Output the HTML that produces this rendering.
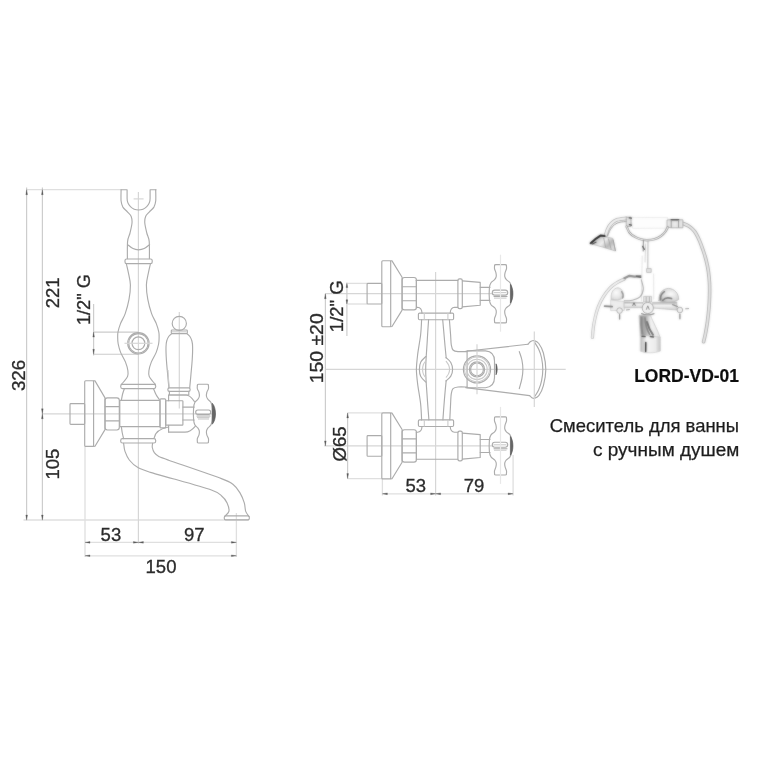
<!DOCTYPE html>
<html><head><meta charset="utf-8"><title>LORD-VD-01</title>
<style>
html,body{margin:0;padding:0;background:#fff;}
body{width:763px;height:763px;overflow:hidden;}
svg{display:block;}
.d{fill:none;stroke:#acacac;stroke-width:1.15;stroke-linecap:round;stroke-linejoin:round;}
.f{fill:none;stroke:#cbcbcb;stroke-width:1.1;}
.m{fill:none;stroke:#dfdfdf;stroke-width:1.3;}
.n{fill:none;stroke:#cdcdcd;stroke-width:1.2;}
.x{fill:none;stroke:#d6d6d6;stroke-width:1.2;}
.g{fill:none;stroke:#e8e8e8;stroke-width:1.2;}
.a{fill:#5c5c5c;stroke:#5c5c5c;stroke-width:0.3;}
.k{fill:#666;stroke:#555;stroke-width:0.6;}
.t{font-family:"Liberation Sans","DejaVu Sans",sans-serif;fill:#2c2c2c;stroke:#2c2c2c;stroke-width:0.32;}
.tb{font-family:"Liberation Sans","DejaVu Sans",sans-serif;fill:#111;stroke:#111;stroke-width:0.2;font-weight:bold;}
.tr{font-family:"Liberation Sans","DejaVu Sans",sans-serif;fill:#1f1f1f;stroke:#1f1f1f;stroke-width:0.25;}
</style></head><body>
<svg width="763" height="763" viewBox="0 0 763 763">
<defs>
<filter id="soft" x="-5%" y="-5%" width="110%" height="110%"><feGaussianBlur stdDeviation="0.6"/></filter>
<filter id="softt" x="-5%" y="-5%" width="110%" height="110%"><feGaussianBlur stdDeviation="0.45"/></filter>
<filter id="blur1" x="-10%" y="-10%" width="120%" height="120%"><feGaussianBlur stdDeviation="0.9"/></filter>
<filter id="blur2" x="-10%" y="-10%" width="120%" height="120%" color-interpolation-filters="sRGB"><feGaussianBlur in="SourceGraphic" stdDeviation="0.8" result="b"/><feComposite in="b" in2="SourceGraphic" operator="arithmetic" k1="0" k2="0.55" k3="0.45" k4="0"/></filter>
<linearGradient id="chrv" x1="0" y1="0" x2="0" y2="1"><stop offset="0" stop-color="#a8a8a8"/><stop offset="0.45" stop-color="#f6f6f6"/><stop offset="1" stop-color="#c9c9c9"/></linearGradient>
<linearGradient id="head" x1="0" y1="0" x2="1" y2="0.6"><stop offset="0" stop-color="#7d7d7d"/><stop offset="0.3" stop-color="#cfcfcf"/><stop offset="0.55" stop-color="#f0f0f0"/><stop offset="0.8" stop-color="#b9b9b9"/><stop offset="1" stop-color="#dedede"/></linearGradient>
<linearGradient id="spt" x1="0" y1="0" x2="1" y2="0"><stop offset="0" stop-color="#969696"/><stop offset="0.3" stop-color="#adadad"/><stop offset="0.55" stop-color="#f4f4f4"/><stop offset="1" stop-color="#e4e4e4"/></linearGradient>
<linearGradient id="spt2" x1="0" y1="0" x2="1" y2="0"><stop offset="0" stop-color="#b8b8b8"/><stop offset="0.3" stop-color="#f6f6f6"/><stop offset="0.75" stop-color="#ececec"/><stop offset="1" stop-color="#c2c2c2"/></linearGradient>
<radialGradient id="bellL" cx="0.4" cy="0.4" r="0.75"><stop offset="0" stop-color="#fcfcfc"/><stop offset="0.65" stop-color="#e3e3e3"/><stop offset="1" stop-color="#b4b4b4"/></radialGradient>
<radialGradient id="bellR" cx="0.6" cy="0.4" r="0.75"><stop offset="0" stop-color="#fbfbfb"/><stop offset="0.6" stop-color="#dadada"/><stop offset="1" stop-color="#a6a6a6"/></radialGradient>
</defs>
<rect width="763" height="763" fill="#fff"/>
<g id="left-view">
<path class="m" d="M26.6,189.7 L121.0,189.7"/>
<path class="n" d="M26.6,187.5 L26.6,521.0"/>
<path class="n" d="M42.4,187.5 L42.4,521.0"/>
<path class="m" d="M23.5,520.0 L249.0,520.0"/>
<path class="x" d="M42.4,413.8 L216.0,413.8"/>
<path class="x" d="M138.4,192.0 L138.4,543.5"/>
<path class="x" d="M133.6,198.9 L143.6,198.9"/>
<path class="m" d="M85.0,446.4 L85.0,557.0"/>
<path class="m" d="M236.4,513.0 L236.4,557.0"/>
<path class="m" d="M85.0,542.4 L236.4,542.4"/>
<path class="m" d="M85.0,555.8 L236.4,555.8"/>
<path class="n" d="M93.6,304.0 L93.6,355.5"/>
<path class="f" d="M93.6,332.1 L138.4,332.1"/>
<path class="f" d="M93.6,354.3 L138.4,354.3"/>
<path class="a" d="M26.6,189.7 L25.8,194.7 L27.5,194.7Z"/>
<path class="a" d="M42.4,189.7 L41.5,194.7 L43.2,194.7Z"/>
<path class="a" d="M26.6,520.0 L25.8,515.0 L27.5,515.0Z"/>
<path class="a" d="M42.4,520.0 L41.5,515.0 L43.2,515.0Z"/>
<path class="a" d="M42.4,413.8 L41.5,408.8 L43.2,408.8Z"/>
<path class="a" d="M42.4,413.8 L41.5,418.8 L43.2,418.8Z"/>
<path class="a" d="M93.6,332.1 L92.8,337.1 L94.4,337.1Z"/>
<path class="a" d="M93.6,354.3 L92.8,349.3 L94.4,349.3Z"/>
<path class="a" d="M85.0,542.4 L90.0,541.5 L90.0,543.2Z"/>
<path class="a" d="M138.4,542.4 L133.4,541.5 L133.4,543.2Z"/>
<path class="a" d="M138.4,542.4 L143.4,541.5 L143.4,543.2Z"/>
<path class="a" d="M236.4,542.4 L231.4,541.5 L231.4,543.2Z"/>
<path class="a" d="M85.0,555.8 L90.0,554.9 L90.0,556.6Z"/>
<path class="a" d="M236.4,555.8 L231.4,554.9 L231.4,556.6Z"/>
<path class="d" d="M121.1,189.7 C121.1,191.6 120.8,198.1 121.1,201.0 C121.4,203.9 121.8,205.2 122.9,207.1 C124.0,208.9 126.2,210.5 127.6,212.1 C129.0,213.7 130.5,214.7 131.2,216.5 C131.9,218.3 132.2,220.2 132.0,223.0 C131.8,225.8 130.7,229.9 130.0,233.0 C129.3,236.1 128.0,237.1 127.6,241.4 C127.2,245.7 127.4,255.7 127.4,258.6" />
<path class="d" d="M155.7,189.7 C155.7,191.6 156.0,198.1 155.7,201.0 C155.4,203.9 155.0,205.2 153.9,207.1 C152.8,208.9 150.6,210.5 149.2,212.1 C147.8,213.7 146.3,214.7 145.6,216.5 C144.9,218.3 144.6,220.2 144.8,223.0 C145.0,225.8 146.1,229.9 146.8,233.0 C147.5,236.1 148.8,237.1 149.2,241.4 C149.6,245.7 149.4,255.7 149.4,258.6" />
<path class="d" d="M121.1,189.7 L127.1,189.7 L127.1,198.5 A11.5,11.5 0 0 0 150.1,198.5 L150.1,189.7 L156.1,189.7" />
<path class="d" d="M127.6,244.6 C128.5,245.3 131.2,247.7 133.0,248.6 C134.8,249.5 136.5,249.8 138.4,249.8 C140.3,249.8 142.3,249.5 144.2,248.6 C146.1,247.7 148.7,245.3 149.6,244.6" />
<rect class="d" x="125.0" y="259.0" width="27.2" height="4.6" rx="1.6"/>
<path class="d" d="M126.4,264.0 C126.7,265.5 127.7,269.4 128.4,272.9 C129.1,276.4 130.3,280.6 130.4,285.0 C130.5,289.4 129.9,294.5 129.0,299.3 C128.1,304.1 126.6,309.6 125.2,313.6 C123.8,317.7 121.7,320.5 120.5,323.6 C119.3,326.7 118.5,329.6 118.0,332.0 C117.5,334.4 117.7,336.0 117.7,338.0 C117.7,340.0 117.7,341.6 118.2,344.0 C118.7,346.4 119.3,349.1 120.5,352.1 C121.7,355.1 124.3,359.0 125.5,362.1 C126.7,365.2 127.6,368.3 127.9,370.7 C128.2,373.1 128.3,374.6 127.6,376.4 C126.9,378.2 125.0,380.2 123.9,381.5 C122.9,382.8 121.7,383.8 121.3,384.3" />
<path class="d" d="M150.4,264.0 C150.1,265.5 149.1,269.4 148.4,272.9 C147.7,276.4 146.5,280.6 146.4,285.0 C146.3,289.4 146.9,294.5 147.8,299.3 C148.7,304.1 150.2,309.6 151.6,313.6 C153.0,317.7 155.1,320.5 156.3,323.6 C157.5,326.7 158.3,329.6 158.8,332.0 C159.3,334.4 159.1,336.0 159.1,338.0 C159.1,340.0 159.1,341.6 158.6,344.0 C158.1,346.4 157.5,349.1 156.3,352.1 C155.1,355.1 152.5,359.0 151.3,362.1 C150.1,365.2 149.2,368.3 148.9,370.7 C148.6,373.1 148.5,374.6 149.2,376.4 C149.9,378.2 151.9,380.2 152.9,381.5 C153.9,382.8 155.1,383.8 155.5,384.3" />
<rect class="d" x="120.7" y="384.3" width="35.0" height="4.3" rx="1.8"/>
<circle class="d" cx="138.4" cy="343.3" r="10.7"/>
<circle class="d" cx="138.4" cy="343.3" r="9.7"/>
<circle class="d" cx="138.4" cy="343.3" r="6.4"/>
<path class="x" d="M124.5,343.3 L152.5,343.3"/>
<path class="d" d="M124.3,388.8 C124.0,389.7 123.1,392.1 122.6,394.0 C122.1,395.9 121.6,399.0 121.4,400.0" />
<path class="d" d="M153.6,388.8 C154.0,389.8 155.1,392.7 156.0,394.5 C156.9,396.3 158.8,398.7 159.3,399.5" />
<rect class="d" x="70.0" y="403.6" width="14.7" height="20.7" rx="0.8"/>
<rect class="d" x="84.7" y="380.7" width="8.9" height="65.7" rx="1.0"/>
<path class="d" d="M93.6,380.7 L95.0,380.9 L105.0,397.9 L105.0,429.6 L95.0,446.2 L93.6,446.4" />
<rect class="d" x="105.0" y="397.9" width="14.3" height="32.1" rx="2.4"/>
<path class="d" d="M105.3,406.6 L119.0,406.6"/>
<path class="d" d="M105.3,420.8 L119.0,420.8"/>
<rect class="d" x="119.8" y="400.4" width="40.2" height="26.3" rx="0.6"/>
<rect class="d" x="160.0" y="398.8" width="5.7" height="29.1" rx="1.0"/>
<path class="d" d="M121.4,427.1 C121.6,428.1 121.9,431.1 122.3,433.0 C122.7,434.9 123.4,437.7 123.6,438.6" />
<path class="d" d="M168.6,427.0 C161.0,428.4 155.2,431.4 154.2,437.9" />
<rect class="d" x="120.7" y="438.6" width="35.0" height="4.4" rx="1.8"/>
<path class="d" d="M123.6,443.3 C123.8,444.5 124.1,448.9 125.0,451.4 C125.9,453.9 127.4,457.6 129.3,460.0 C131.2,462.4 134.7,465.7 137.9,467.6 C141.1,469.5 145.0,470.7 150.4,472.4 C155.8,474.1 164.8,476.4 174.0,479.0 C183.2,481.6 204.3,487.5 211.4,490.0 C218.5,492.5 219.0,493.8 221.4,495.7 C223.8,497.6 226.0,500.5 227.1,502.9 C228.2,505.3 229.3,509.4 228.9,511.4 C228.5,513.4 225.2,515.7 224.6,516.5" />
<path class="d" d="M152.6,443.3 C152.6,443.9 152.0,446.1 152.3,447.5 C152.6,448.9 153.3,451.3 154.3,452.6 C155.3,453.9 156.7,455.3 158.8,456.4 C160.9,457.5 159.2,456.9 168.6,460.2 C178.0,463.5 211.8,475.0 221.4,478.6 C231.0,482.2 230.1,482.2 232.9,484.3 C235.7,486.4 238.3,490.1 240.0,492.9 C241.7,495.7 243.4,500.1 244.3,502.9 C245.2,505.7 245.0,509.4 245.7,511.4 C246.4,513.4 248.5,515.7 249.0,516.5" />
<rect class="d" x="224.3" y="515.9" width="25.0" height="4.0" rx="1.4"/>
<path class="x" d="M179.3,312.0 L179.3,408.6"/>
<circle class="d" cx="179.3" cy="323.4" r="7.1"/>
<rect class="d" x="171.3" y="330.0" width="16.0" height="3.6" rx="0.8"/>
<path class="f" d="M172.0,331.8 L186.6,331.8"/>
<path class="d" d="M171.5,333.8 C171.0,334.2 169.5,335.3 168.7,336.5 C167.9,337.7 167.2,339.2 166.7,341.0 C166.2,342.8 166.1,343.8 166.0,347.0 C165.9,350.2 166.1,355.3 166.4,360.0 C166.7,364.7 167.3,370.4 167.7,375.0 C168.1,379.6 168.7,385.8 168.9,387.9" />
<path class="d" d="M187.1,333.8 C187.6,334.2 189.1,335.3 189.9,336.5 C190.7,337.7 191.4,339.2 191.9,341.0 C192.4,342.8 192.6,343.8 192.6,347.0 C192.7,350.2 192.5,355.3 192.2,360.0 C191.9,364.7 191.3,370.4 190.9,375.0 C190.5,379.6 189.9,385.8 189.7,387.9" />
<path class="f" d="M168.0,370.0 C168.1,371.3 168.4,377.7 168.6,380.0 C168.8,382.3 169.3,386.4 169.4,387.4" />
<rect class="d" x="167.9" y="387.9" width="22.2" height="3.5" rx="1.4"/>
<path class="d" d="M169.4,391.4 L169.4,395.0 L188.8,395.0 L188.8,391.4" />
<path class="d" d="M168.6,395 L186.2,395 C190,395 192,398 194.4,401.5" />
<path class="d" d="M168.6,432.1 L185.0,432.1 C190,432.1 192.5,429.5 195.2,426.3" />
<path class="d" d="M168.6,395.0 L168.6,400.7"/>
<path class="d" d="M168.6,425.2 L168.6,432.1"/>
<rect class="d" x="165.7" y="400.7" width="17.2" height="24.4" rx="0.6"/>
<path class="d" d="M182.9,407.1 L194.2,407.1"/>
<path class="d" d="M182.9,420.0 L194.2,420.0"/>
<path class="d" d="M197.4,385.0 C197.4,385.5 197.1,387.4 197.3,388.5 C197.5,389.6 198.7,391.3 199.0,392.5 C199.3,393.7 199.5,395.5 199.3,396.5 C199.1,397.5 198.5,398.5 197.8,399.4 C197.1,400.3 195.4,401.2 194.8,402.5 C194.2,403.8 193.8,405.4 193.6,408.0 C193.4,410.6 193.4,417.0 193.6,419.5 C193.8,422.0 194.2,423.5 194.8,424.8 C195.4,426.1 197.1,427.0 197.8,427.9 C198.5,428.8 199.1,429.8 199.3,430.8 C199.5,431.8 199.3,433.6 199.0,434.8 C198.7,436.0 197.5,437.7 197.3,438.8 C197.1,439.9 197.4,441.7 197.4,442.2" />
<path class="d" d="M208.4,385.0 C208.4,385.5 208.7,387.4 208.5,388.5 C208.3,389.6 207.1,391.3 206.8,392.5 C206.5,393.7 206.3,395.5 206.5,396.5 C206.7,397.5 207.3,398.5 208.0,399.4 C208.7,400.3 210.4,401.2 211.0,402.5 C211.6,403.8 212.0,405.4 212.2,408.0 C212.4,410.6 212.4,417.0 212.2,419.5 C212.0,422.0 211.6,423.5 211.0,424.8 C210.4,426.1 208.7,427.0 208.0,427.9 C207.3,428.8 206.7,429.8 206.5,430.8 C206.3,431.8 206.5,433.6 206.8,434.8 C207.1,436.0 208.3,437.7 208.5,438.8 C208.7,439.9 208.4,441.7 208.4,442.2" />
<path class="d" d="M197.4,385 Q197.5,384.2 198.6,384.2 L207.2,384.2 Q208.3,384.2 208.4,385" />
<path class="d" d="M197.4,442.2 Q197.5,443.0 198.6,443.0 L207.2,443.0 Q208.3,443.0 208.4,442.2" />
<path class="k" d="M212.3,403.2 C216.6,408 216.6,419.5 212.3,424.2 Z" />
<rect class="d" x="195.7" y="410.0" width="15.0" height="4.3" rx="2.1"/>
<path class="d" d="M197.0,416.0 L210.0,416.0"/>
<path class="f" d="M197.0,417.6 L209.5,417.6"/>
<path class="f" d="M198.0,419.0 L209.0,419.0"/>
</g>
<g id="top-view">
<path class="x" d="M325.4,293.7 L493.0,293.7"/>
<path class="x" d="M324.3,445.9 L493.0,445.9"/>
<path class="x" d="M325.6,369.4 L565.7,369.4"/>
<path class="x" d="M435.6,272.0 L435.6,495.5"/>
<path class="n" d="M325.4,293.7 L325.4,445.9"/>
<path class="n" d="M346.9,282.5 L346.9,336.0"/>
<path class="m" d="M346.9,283.4 L367.1,283.4"/>
<path class="m" d="M346.9,304.0 L367.1,304.0"/>
<path class="n" d="M347.6,412.9 L347.6,478.6"/>
<path class="m" d="M347.6,412.9 L382.0,412.9"/>
<path class="m" d="M347.6,478.6 L382.0,478.6"/>
<path class="m" d="M382.4,478.6 L382.4,495.5"/>
<path class="m" d="M513.1,455.0 L513.1,495.5"/>
<path class="m" d="M382.4,493.8 L513.1,493.8"/>
<path class="a" d="M325.4,293.7 L324.5,298.7 L326.2,298.7Z"/>
<path class="a" d="M325.4,445.9 L324.5,440.9 L326.2,440.9Z"/>
<path class="a" d="M346.9,283.4 L346.0,287.6 L347.8,287.6Z"/>
<path class="a" d="M346.9,304.0 L346.0,299.8 L347.8,299.8Z"/>
<path class="a" d="M347.6,412.9 L346.8,417.9 L348.5,417.9Z"/>
<path class="a" d="M347.6,478.6 L346.8,473.6 L348.5,473.6Z"/>
<path class="a" d="M382.4,493.8 L387.4,492.9 L387.4,494.7Z"/>
<path class="a" d="M435.6,493.8 L430.6,492.9 L430.6,494.7Z"/>
<path class="a" d="M435.6,493.8 L440.6,492.9 L440.6,494.7Z"/>
<path class="a" d="M513.1,493.8 L508.1,492.9 L508.1,494.7Z"/>
<rect class="d" x="367.1" y="283.4" width="14.7" height="20.6" rx="0.8"/>
<rect class="d" x="381.8" y="260.7" width="8.9" height="66.0" rx="1.0"/>
<path class="d" d="M390.7,260.7 L392.0,260.9 L402.1,277.3 L402.1,310.1 L392.0,326.5 L390.7,326.7" />
<rect class="d" x="402.1" y="277.5" width="14.3" height="32.4" rx="2.4"/>
<path class="d" d="M402.4,286.7 L416.1,286.7"/>
<path class="d" d="M402.4,300.7 L416.1,300.7"/>
<path class="d" d="M416.4,280.3 L457.9,280.3"/>
<path class="d" d="M416.4,307.3 L417.6,307.3 C420.2,307.5 421.8,309.2 422.0,313.1" />
<path class="d" d="M457.9,307.3 L454.6,307.3 C452.0,307.5 450.4,309.2 450.2,313.1" />
<path class="d" d="M416.4,280.3 L416.4,307.3"/>
<rect class="d" x="457.9" y="278.9" width="4.4" height="29.8" rx="1.6"/>
<path class="d" d="M462.3,280.9 L480.2,282.4 L480.2,305.3 L462.3,306.9" />
<path class="d" d="M480.2,287.3 L490.0,287.3"/>
<path class="d" d="M480.2,300.3 L490.0,300.3"/>
<rect class="d" x="418.4" y="313.1" width="35.2" height="6.6" rx="1.2"/>
<path class="f" d="M424.3,313.1 L424.3,319.7"/>
<path class="f" d="M447.9,313.1 L447.9,319.7"/>
<path class="d" d="M494.6,265.3 C494.6,265.8 494.3,267.6 494.5,268.7 C494.7,269.8 495.6,271.5 495.9,272.7 C496.2,273.9 496.4,275.6 496.2,276.7 C496.0,277.8 495.4,278.8 494.6,279.7 C493.8,280.6 491.8,281.5 491.0,282.7 C490.2,283.9 489.6,285.1 489.4,287.7 C489.2,290.2 489.2,297.1 489.4,299.7 C489.6,302.2 490.2,303.5 491.0,304.7 C491.8,305.9 493.8,306.8 494.6,307.7 C495.4,308.6 496.0,309.6 496.2,310.7 C496.4,311.8 496.2,313.5 495.9,314.7 C495.6,315.9 494.7,317.6 494.5,318.7 C494.3,319.8 494.6,321.6 494.6,322.1" />
<path class="d" d="M506.4,265.3 C506.4,265.8 506.7,267.6 506.5,268.7 C506.3,269.8 505.4,271.5 505.1,272.7 C504.8,273.9 504.6,275.6 504.8,276.7 C505.0,277.8 505.6,278.8 506.4,279.7 C507.2,280.6 509.2,281.5 510.0,282.7 C510.8,283.9 511.4,285.1 511.6,287.7 C511.8,290.2 511.8,297.1 511.6,299.7 C511.4,302.2 510.8,303.5 510.0,304.7 C509.2,305.9 507.2,306.8 506.4,307.7 C505.6,308.6 505.0,309.6 504.8,310.7 C504.6,311.8 504.8,313.5 505.1,314.7 C505.4,315.9 506.3,317.6 506.5,318.7 C506.7,319.8 506.4,321.6 506.4,322.1" />
<path class="d" d="M494.6,265.3 Q494.7,264.6 495.8,264.6 L505.2,264.6 Q506.3,264.6 506.4,265.3" />
<path class="d" d="M494.6,322.1 Q494.7,322.8 495.8,322.8 L505.2,322.8 Q506.3,322.8 506.4,322.1" />
<path class="k" d="M510.4,284.3 C513.8,288.7 513.8,298.7 510.4,303.1 Z" />
<rect class="d" x="492.3" y="290.1" width="15.4" height="5.0" rx="2.4"/>
<path class="f" d="M493.5,292.6 L506.5,292.6"/>
<path class="d" d="M494.0,296.5 L507.0,296.5"/>
<path class="f" d="M494.0,298.1 L506.5,298.1"/>
<path class="g" d="M500.5,254.7 L500.5,331.7"/>
<rect class="d" x="367.1" y="435.6" width="14.7" height="20.6" rx="0.8"/>
<rect class="d" x="381.8" y="412.9" width="8.9" height="66.0" rx="1.0"/>
<path class="d" d="M390.7,412.9 L392.0,413.1 L402.1,429.5 L402.1,462.2 L392.0,478.7 L390.7,478.9" />
<rect class="d" x="402.1" y="429.7" width="14.3" height="32.4" rx="2.4"/>
<path class="d" d="M402.4,438.9 L416.1,438.9"/>
<path class="d" d="M402.4,452.9 L416.1,452.9"/>
<path class="d" d="M416.4,459.2 L457.9,459.2"/>
<path class="d" d="M416.4,432.2 L417.6,432.2 C420.2,432.1 421.8,430.4 422.0,426.5" />
<path class="d" d="M457.9,432.2 L454.6,432.2 C452.0,432.1 450.4,430.4 450.2,426.5" />
<path class="d" d="M416.4,432.5 L416.4,459.5"/>
<rect class="d" x="457.9" y="431.1" width="4.4" height="29.8" rx="1.6"/>
<path class="d" d="M462.3,433.1 L480.2,434.6 L480.2,457.5 L462.3,459.1" />
<path class="d" d="M480.2,439.5 L490.0,439.5"/>
<path class="d" d="M480.2,452.5 L490.0,452.5"/>
<rect class="d" x="418.4" y="419.9" width="35.2" height="6.6" rx="1.2"/>
<path class="f" d="M424.3,426.5 L424.3,419.9"/>
<path class="f" d="M447.9,426.5 L447.9,419.9"/>
<path class="d" d="M494.6,417.5 C494.6,418.0 494.3,419.7 494.5,420.9 C494.7,422.0 495.6,423.7 495.9,424.9 C496.2,426.1 496.4,427.8 496.2,428.9 C496.0,429.9 495.4,431.0 494.6,431.9 C493.8,432.8 491.8,433.7 491.0,434.9 C490.2,436.1 489.6,437.3 489.4,439.9 C489.2,442.4 489.2,449.3 489.4,451.9 C489.6,454.4 490.2,455.7 491.0,456.9 C491.8,458.1 493.8,459.0 494.6,459.9 C495.4,460.8 496.0,461.8 496.2,462.9 C496.4,463.9 496.2,465.7 495.9,466.9 C495.6,468.1 494.7,469.7 494.5,470.9 C494.3,472.0 494.6,473.7 494.6,474.2" />
<path class="d" d="M506.4,417.5 C506.4,418.0 506.7,419.7 506.5,420.9 C506.3,422.0 505.4,423.7 505.1,424.9 C504.8,426.1 504.6,427.8 504.8,428.9 C505.0,429.9 505.6,431.0 506.4,431.9 C507.2,432.8 509.2,433.7 510.0,434.9 C510.8,436.1 511.4,437.3 511.6,439.9 C511.8,442.4 511.8,449.3 511.6,451.9 C511.4,454.4 510.8,455.7 510.0,456.9 C509.2,458.1 507.2,459.0 506.4,459.9 C505.6,460.8 505.0,461.8 504.8,462.9 C504.6,463.9 504.8,465.7 505.1,466.9 C505.4,468.1 506.3,469.7 506.5,470.9 C506.7,472.0 506.4,473.7 506.4,474.2" />
<path class="d" d="M494.6,417.5 Q494.7,416.8 495.8,416.8 L505.2,416.8 Q506.3,416.8 506.4,417.5" />
<path class="d" d="M494.6,474.2 Q494.7,475.0 495.8,475.0 L505.2,475.0 Q506.3,475.0 506.4,474.2" />
<path class="k" d="M510.4,436.5 C513.8,440.9 513.8,450.9 510.4,455.2 Z" />
<rect class="d" x="492.3" y="442.2" width="15.4" height="5.0" rx="2.4"/>
<path class="f" d="M493.5,444.8 L506.5,444.8"/>
<path class="d" d="M494.0,448.7 L507.0,448.7"/>
<path class="f" d="M494.0,450.2 L506.5,450.2"/>
<path class="g" d="M500.5,406.9 L500.5,483.9"/>
<path class="d" d="M421.6,319.7 C421.5,322.0 421.2,329.7 420.6,335.0 C420.0,340.3 418.2,349.8 417.6,355.0 C417.0,360.2 416.4,365.1 416.4,369.4 C416.4,373.7 417.0,378.5 417.6,383.6 C418.2,388.7 420.0,398.2 420.6,403.6 C421.2,409.0 421.5,417.4 421.6,419.9" />
<path class="d" d="M428.6,319.7 C428.4,322.7 427.7,332.5 427.3,340.0 C426.9,347.5 425.7,360.6 425.7,369.4 C425.7,378.2 426.8,391.0 427.3,398.6 C427.8,406.2 428.7,416.7 428.9,419.9" />
<path class="d" d="M442.7,319.7 C443.0,322.7 444.0,334.3 444.5,340.0 C445.0,345.7 445.9,355.3 446.2,358.0" />
<path class="d" d="M446.2,380.6 C445.9,383.3 445.0,392.7 444.5,398.6 C444.0,404.5 443.1,416.7 442.9,419.9" />
<path class="d" d="M449.4,319.7 C449.6,322.0 450.3,331.2 450.6,335.0 C450.9,338.8 450.9,342.8 451.3,345.0 C451.7,347.2 452.0,349.0 453.0,350.0 C454.0,351.0 455.9,351.4 458.0,351.6 C460.1,351.8 465.7,351.6 467.1,351.6" />
<path class="d" d="M449.8,419.9 C449.9,417.4 450.4,407.5 450.6,403.6 C450.8,399.7 450.9,395.9 451.3,393.6 C451.7,391.4 452.0,389.6 453.0,388.6 C454.0,387.6 455.9,387.2 458.0,387.0 C460.1,386.8 465.7,387.0 467.1,387.0" />
<path class="d" d="M425.9,356.5 C425.0,357.4 421.9,359.9 420.8,362.0 C419.7,364.1 419.4,367.0 419.4,369.4 C419.4,371.8 419.7,374.5 420.8,376.6 C421.9,378.7 425.0,381.2 425.9,382.1" />
<path class="f" d="M426.4,360.0 C425.9,360.8 424.0,362.9 423.4,364.5 C422.8,366.1 422.6,367.8 422.6,369.4 C422.6,371.0 422.8,372.6 423.4,374.1 C424.0,375.6 425.9,377.9 426.4,378.6" />
<path class="d" d="M446.0,357.6 C446.8,358.4 449.7,360.5 450.8,362.5 C451.9,364.5 452.6,367.1 452.6,369.4 C452.6,371.7 451.9,374.2 450.8,376.1 C449.7,378.0 446.8,380.2 446.0,381.0" />
<path class="f" d="M446.0,361.0 C446.4,361.7 448.0,363.6 448.6,365.0 C449.2,366.4 449.6,368.0 449.6,369.4 C449.6,370.8 449.2,372.2 448.6,373.6 C448.0,375.0 446.4,376.9 446.0,377.6" />
<path class="d" d="M467.1,350.9 L485.5,350.9 C491.5,351.4 494.5,355.5 494.5,361 L494.5,377.6 C494.5,383.1 491.5,387.2 485.5,387.7 L467.1,387.7 Z" />
<circle class="d" cx="477.0" cy="369.4" r="13.6"/>
<circle class="f" cx="477.0" cy="369.4" r="12.4"/>
<circle class="f" cx="477.0" cy="369.4" r="10.2"/>
<circle class="d" cx="477.0" cy="369.4" r="7.6"/>
<circle class="d" cx="477.0" cy="369.4" r="6.4"/>
<path class="x" d="M477.0,344.3 L477.0,394.3"/>
<path class="k" d="M496.0,363.8 C497.6,366 497.6,372.6 496.0,374.8 Z" />
<path class="d" d="M465.7,351.3 L527.9,344.3"/>
<path class="d" d="M465.7,387.6 L529.6,395.6"/>
<path class="d" d="M527.9,344.3 C528.3,343.9 529.6,342.2 530.6,341.6 C531.6,341.0 533.1,340.3 534.3,340.6 C535.5,340.9 537.4,341.6 538.8,343.5 C540.2,345.4 542.4,349.1 543.4,353.0 C544.4,356.9 545.8,364.5 545.8,369.4 C545.8,374.3 544.4,381.7 543.4,385.6 C542.4,389.5 540.2,393.7 538.8,395.6 C537.4,397.5 535.4,398.1 534.3,398.4 C533.2,398.7 532.3,398.0 531.6,397.6 C530.9,397.2 529.9,395.9 529.6,395.6" />
<path class="d" d="M534.3,341.8 C534.9,342.9 537.5,346.6 538.6,349.0 C539.7,351.4 541.0,354.9 541.6,358.0 C542.2,361.1 542.8,366.0 542.8,369.4 C542.8,372.8 542.2,377.5 541.6,380.6 C541.0,383.7 539.7,387.5 538.6,390.0 C537.5,392.5 534.9,396.1 534.3,397.2" />
<path class="d" d="M519.3,351.6 C519.7,353.0 521.3,357.0 521.9,360.0 C522.5,363.0 522.9,366.3 522.9,369.4 C522.9,372.5 522.5,375.4 521.9,378.6 C521.3,381.8 519.7,386.9 519.3,388.6" />
<path class="x" d="M534.3,331.4 L534.3,407.1"/>
</g>
<g id="photo" filter="url(#blur2)">
<path d="M682.9,223.4 C683.9,223.9 687.0,224.9 689.0,226.2 C691.0,227.5 692.9,229.1 694.6,231.4 C696.3,233.7 697.8,236.9 699.2,240.0 C700.6,243.1 701.8,246.6 703.0,250.0 C704.2,253.4 705.3,256.9 706.2,260.5 C707.1,264.1 707.9,267.6 708.4,271.4 C708.9,275.1 709.3,279.1 709.5,283.0 C709.7,286.9 709.7,290.7 709.6,295.0 C709.5,299.3 709.3,304.1 708.9,308.6 C708.5,313.1 707.9,317.9 707.4,322.0 C706.9,326.1 706.2,329.7 705.6,333.0 C705.0,336.3 703.9,340.3 703.6,341.8" fill="none" stroke="#a4a4a4" stroke-width="3.6" stroke-linecap="round" stroke-linejoin="round" />
<path d="M682.9,223.4 C683.9,223.9 687.0,224.9 689.0,226.2 C691.0,227.5 692.9,229.1 694.6,231.4 C696.3,233.7 697.8,236.9 699.2,240.0 C700.6,243.1 701.8,246.6 703.0,250.0 C704.2,253.4 705.3,256.9 706.2,260.5 C707.1,264.1 707.9,267.6 708.4,271.4 C708.9,275.1 709.3,279.1 709.5,283.0 C709.7,286.9 709.7,290.7 709.6,295.0 C709.5,299.3 709.3,304.1 708.9,308.6 C708.5,313.1 707.9,317.9 707.4,322.0 C706.9,326.1 706.2,329.7 705.6,333.0 C705.0,336.3 703.9,340.3 703.6,341.8" fill="none" stroke="#e8e8e8" stroke-width="1.9" stroke-linecap="round" stroke-linejoin="round" />
<path d="M592.4,337.5 C592.6,335.8 592.9,330.5 593.4,327.0 C593.9,323.5 594.6,319.9 595.4,316.5 C596.2,313.1 597.1,309.9 598.4,306.6 C599.7,303.3 601.4,299.8 603.4,296.6 C605.4,293.4 608.1,290.0 610.4,287.6 C612.7,285.2 615.1,283.8 617.4,282.4 C619.7,281.0 623.2,279.6 624.4,279.0" fill="none" stroke="#b4b4b4" stroke-width="3.2" stroke-linecap="round" stroke-linejoin="round" />
<path d="M592.4,337.5 C592.6,335.8 592.9,330.5 593.4,327.0 C593.9,323.5 594.6,319.9 595.4,316.5 C596.2,313.1 597.1,309.9 598.4,306.6 C599.7,303.3 601.4,299.8 603.4,296.6 C605.4,293.4 608.1,290.0 610.4,287.6 C612.7,285.2 615.1,283.8 617.4,282.4 C619.7,281.0 623.2,279.6 624.4,279.0" fill="none" stroke="#f0f0f0" stroke-width="1.8" stroke-linecap="round" stroke-linejoin="round" />
<path d="M605.6,235.6 C606.0,234.5 606.8,231.0 607.8,229.0 C608.8,227.0 610.1,224.9 611.6,223.4 C613.1,221.9 614.6,220.6 617.0,219.8 C619.4,219.0 624.7,218.6 626.2,218.4" fill="none" stroke="#a8a8a8" stroke-width="3.8" stroke-linecap="round" stroke-linejoin="round" />
<path d="M605.6,235.6 C606.0,234.5 606.8,231.0 607.8,229.0 C608.8,227.0 610.1,224.9 611.6,223.4 C613.1,221.9 614.6,220.6 617.0,219.8 C619.4,219.0 624.7,218.6 626.2,218.4" fill="none" stroke="#f3f3f3" stroke-width="2.2" stroke-linecap="round" stroke-linejoin="round" />
<path d="M607.6,236.0 C608.0,235.0 609.1,231.7 610.2,229.8 C611.3,227.9 612.8,226.1 614.4,224.8 C616.0,223.5 618.0,222.7 620.0,222.2 C622.0,221.7 625.2,221.7 626.2,221.6" fill="none" stroke="#8c8c8c" stroke-width="0.9" stroke-linecap="round" stroke-linejoin="round" />
<path d="M590.8,243.4 L600.6,235.6 L612.8,238.4 L615.5,251.0 L603,247.2 Z" fill="url(#head)" stroke="#b2b2b2" stroke-width="0.8" stroke-linecap="round" stroke-linejoin="round" />
<path d="M590.6,243.2 L596.0,238.6 L600.8,235.4 L604.6,236.0" fill="none" stroke="#1e1e1e" stroke-width="2.0" stroke-linecap="round" stroke-linejoin="round" />
<path d="M592.2,244.0 L596.0,242.2" fill="none" stroke="#444" stroke-width="1.2" stroke-linecap="round" stroke-linejoin="round" />
<path d="M603.8,238.4 L605.6,247.4 M608.4,238.8 L611.2,249.4" fill="none" stroke="#a0a0a0" stroke-width="0.9" stroke-linecap="round" stroke-linejoin="round" />
<path d="M613.2,240 L615.4,250.6" fill="none" stroke="#909090" stroke-width="1.0" stroke-linecap="round" stroke-linejoin="round" />
<path d="M631.0,217.4 L667.6,217.6 C668.6,221 668.4,225.4 667.0,228.2 L633,228.4 Z" fill="#fdfdfd" stroke="#e3e3e3" stroke-width="0.7" stroke-linecap="round" stroke-linejoin="round" />
<path d="M626.6,217.2 L631.0,217.2 L631.0,226.4 L626.6,226.4 Z" fill="#e6e6e6" stroke="#9a9a9a" stroke-width="0.8" stroke-linecap="round" stroke-linejoin="round" />
<path d="M629.2,217.8 L631.4,218.2 M629.4,224.6 L631.4,225.2" fill="none" stroke="#3c3c3c" stroke-width="1.3" stroke-linecap="round" stroke-linejoin="round" />
<path d="M667.4,220.0 L671.0,219.6 L682.9,219.8 L682.9,227.8 L671.0,227.8 L667.4,227.0 Z" fill="#e9e9e9" stroke="#9a9a9a" stroke-width="0.8" stroke-linecap="round" stroke-linejoin="round" />
<path d="M671.2,219.8 L678.6,219.8" fill="none" stroke="#444" stroke-width="1.4" stroke-linecap="round" stroke-linejoin="round" />
<path d="M671.2,220.4 L671.2,227.4 M678.6,220.4 L678.6,227.4" fill="none" stroke="#909090" stroke-width="1.0" stroke-linecap="round" stroke-linejoin="round" />
<path d="M626.6,226.6 C627.1,227.6 628.1,230.7 629.4,232.4 C630.7,234.1 632.6,235.5 634.4,236.6 C636.2,237.7 638.3,238.6 640.4,239.2 C642.5,239.8 644.6,240.2 647.0,240.2 C649.4,240.2 652.3,239.9 654.6,239.2 C656.9,238.5 659.2,237.3 661.0,236.0 C662.8,234.7 664.3,233.1 665.4,231.6 C666.5,230.1 667.4,227.9 667.8,227.2" fill="none" stroke="#989898" stroke-width="2.4" stroke-linecap="round" stroke-linejoin="round" />
<path d="M626.6,226.6 C627.1,227.6 628.1,230.7 629.4,232.4 C630.7,234.1 632.6,235.5 634.4,236.6 C636.2,237.7 638.3,238.6 640.4,239.2 C642.5,239.8 644.6,240.2 647.0,240.2 C649.4,240.2 652.3,239.9 654.6,239.2 C656.9,238.5 659.2,237.3 661.0,236.0 C662.8,234.7 664.3,233.1 665.4,231.6 C666.5,230.1 667.4,227.9 667.8,227.2" fill="none" stroke="#f4f4f4" stroke-width="0.9" stroke-linecap="round" stroke-linejoin="round" />
<path d="M643.4,240.4 L643.2,251.0" fill="none" stroke="#8a8a8a" stroke-width="1.1" stroke-linecap="round" stroke-linejoin="round" />
<path d="M648.0,241.0 L647.8,268.6" fill="none" stroke="#b0b0b0" stroke-width="1.0" stroke-linecap="round" stroke-linejoin="round" />
<path d="M645.6,244 L645.0,262" fill="none" stroke="#d4d4d4" stroke-width="1.0" stroke-linecap="round" stroke-linejoin="round" />
<path d="M642.6,246.4 L644.4,249.4" fill="none" stroke="#555" stroke-width="1.3" stroke-linecap="round" stroke-linejoin="round" />
<path d="M647.0,268.6 L651.2,268.6 L651.2,272.4 L647.0,272.4 Z" fill="#e6e6e6" stroke="#ababab" stroke-width="0.8" stroke-linecap="round" stroke-linejoin="round" />
<path d="M642.2,256 L641.4,301 M653.6,274 L653.8,299" fill="none" stroke="#e0e0e0" stroke-width="0.9" stroke-linecap="round" stroke-linejoin="round" />
<path d="M624.4,278.2 L629.4,275.8 L634.6,276.6 L640.4,276.2" fill="none" stroke="#888" stroke-width="2.2" stroke-linecap="round" stroke-linejoin="round" />
<path d="M636.6,276.2 L640.6,277.2" fill="none" stroke="#555" stroke-width="1.6" stroke-linecap="round" stroke-linejoin="round" />
<path d="M641.3,279.9 C641.6,281.4 643.5,286.2 643.3,289.0 C643.1,291.8 641.9,295.0 640.0,296.9 C638.1,298.8 634.7,299.5 632.1,300.2 C629.5,300.9 625.5,300.7 624.2,300.8" fill="none" stroke="#a2a2a2" stroke-width="1.1" stroke-linecap="round" stroke-linejoin="round" />
<path d="M611.2,299.2 C610.4,292.4 613.6,288.0 618.0,287.8 C621.6,288.2 623.8,292.0 623.6,297.6 C620,300.4 615,300.6 611.2,299.2 Z" fill="url(#bellL)" stroke="#bdbdbd" stroke-width="0.8" stroke-linecap="round" stroke-linejoin="round" />
<path d="M621.6,291.6 C623.2,293.6 623.4,296.0 622.6,298.0" fill="none" stroke="#8c8c8c" stroke-width="1.3" stroke-linecap="round" stroke-linejoin="round" />
<path d="M659.0,300.6 C658.4,293.6 662.6,288.6 668.6,288.4 C674.6,288.8 678.8,293.4 678.6,299.6 C672,303.4 665,303.4 659.0,300.6 Z" fill="url(#bellR)" stroke="#b0b0b0" stroke-width="0.8" stroke-linecap="round" stroke-linejoin="round" />
<path d="M660.6,299.6 C660.2,296.4 661.6,293.4 664.4,291.6 M662.6,300.4 C664.6,298.0 668,297.2 671.6,298.6" fill="none" stroke="#777" stroke-width="1.6" stroke-linecap="round" stroke-linejoin="round" />
<path d="M611.0,300.0 L624.4,301.6 L624.4,310.4 L611.0,310.6 Z" fill="#ededed" stroke="#c6c6c6" stroke-width="0.7" stroke-linecap="round" stroke-linejoin="round" />
<path d="M624.4,302.0 L643.2,302.6 L643.2,307.6 L624.4,307.8 Z" fill="url(#chrv)" stroke="#b4b4b4" stroke-width="0.7" stroke-linecap="round" stroke-linejoin="round" />
<path d="M652.8,302.4 L676.8,302.0 L676.8,310.0 L652.8,308.0 Z" fill="url(#chrv)" stroke="#b4b4b4" stroke-width="0.7" stroke-linecap="round" stroke-linejoin="round" />
<path d="M632.8,305.4 L634.0,302.8 L635.2,305.4" fill="none" stroke="#555" stroke-width="0.9" stroke-linecap="round" stroke-linejoin="round" />
<path d="M644.0,296.4 L651.6,296.4 L651.6,302.0 L644.0,302.0 Z" fill="#e9e9e9" stroke="#b8b8b8" stroke-width="0.8" stroke-linecap="round" stroke-linejoin="round" />
<path d="M646.2,297 L646.2,301.6 M649.4,297 L649.4,301.6" fill="none" stroke="#9a9a9a" stroke-width="0.8" stroke-linecap="round" stroke-linejoin="round" />
<circle cx="647.8" cy="308.0" r="5.6" fill="#f4f4f4" stroke="#9c9c9c" stroke-width="0.9"/>
<path d="M646.4,309.4 L647.8,305.8 L649.2,309.4" fill="none" stroke="#777" stroke-width="0.9" stroke-linecap="round" stroke-linejoin="round" />
<path d="M641.6,313.6 C645,315.4 650.6,315.4 654.0,313.6" fill="none" stroke="#8a8a8a" stroke-width="1.2" stroke-linecap="round" stroke-linejoin="round" />
<path d="M604.6,306.2 L612.2,306.6" fill="none" stroke="#7c7c7c" stroke-width="1.7" stroke-linecap="round" stroke-linejoin="round" />
<circle cx="619.6" cy="310.6" r="2.8" fill="#f2f2f2" stroke="#9f9f9f" stroke-width="0.9"/>
<circle cx="679.9" cy="310.0" r="2.8" fill="#f2f2f2" stroke="#9f9f9f" stroke-width="0.9"/>
<path d="M619.6,314.6 L619.6,319.0 M679.9,314.2 L679.9,318.8" fill="none" stroke="#808080" stroke-width="1.3" stroke-linecap="round" stroke-linejoin="round" />
<path d="M626.4,310.0 L629.4,309.6 M685.6,308.8 L688.6,308.6" fill="none" stroke="#8f8f8f" stroke-width="1.0" stroke-linecap="round" stroke-linejoin="round" />
<path d="M672.6,304.6 L677.6,306.6" fill="none" stroke="#8a8a8a" stroke-width="1.2" stroke-linecap="round" stroke-linejoin="round" />
<path d="M639.4,315.4 L650.4,315.4 C653.6,323 657.6,330 660.2,337.4 L640.6,335.4 Z" fill="url(#spt)" stroke="#bcbcbc" stroke-width="0.7" stroke-linecap="round" stroke-linejoin="round" />
<path d="M641.6,317.6 C641.4,324 641.6,330 642.6,334.0 M645.0,318 C645.4,324 647.0,330 649.6,334.4" fill="none" stroke="#888" stroke-width="1.8" stroke-linecap="round" stroke-linejoin="round" />
<path d="M647.0,322 C648.4,327.2 650.4,331.4 653.0,334.8" fill="none" stroke="#707070" stroke-width="2.0" stroke-linecap="round" stroke-linejoin="round" />
<path d="M640.6,335.0 L660.3,337.2 L660.4,351.0 C654,353.4 646,353.4 640.6,351.2 Z" fill="url(#spt2)" stroke="#c6c6c6" stroke-width="0.7" stroke-linecap="round" stroke-linejoin="round" />
<path d="M642.0,336.2 L645.0,336.6 M650.4,336.6 L653.4,337.0" fill="none" stroke="#4a4a4a" stroke-width="1.5" stroke-linecap="round" stroke-linejoin="round" />
<path d="M645.8,342.6 L645.7,351.6" fill="none" stroke="#2c2c2c" stroke-width="1.5" stroke-linecap="round" stroke-linejoin="round" />
</g>
<g id="labels" filter="url(#softt)">
<text class="t" x="24.9" y="375.5" font-size="18.5" text-anchor="middle" transform="rotate(-90 24.9 375.5)" textLength="31.2" lengthAdjust="spacingAndGlyphs">326</text>
<text class="t" x="59.2" y="292.9" font-size="18.5" text-anchor="middle" transform="rotate(-90 59.2 292.9)">221</text>
<text class="t" x="59.2" y="464.1" font-size="18.5" text-anchor="middle" transform="rotate(-90 59.2 464.1)">105</text>
<text class="t" x="90.0" y="299.6" font-size="18.5" text-anchor="middle" transform="rotate(-90 90.0 299.6)" textLength="51.0" lengthAdjust="spacingAndGlyphs">1/2" G</text>
<text class="t" x="110.9" y="540.7" font-size="18.5" text-anchor="middle">53</text>
<text class="t" x="194.3" y="540.7" font-size="18.5" text-anchor="middle">97</text>
<text class="t" x="161.0" y="573.1" font-size="18.5" text-anchor="middle">150</text>
<text class="t" x="322.9" y="348.3" font-size="18.5" text-anchor="middle" transform="rotate(-90 322.9 348.3)" textLength="70.0" lengthAdjust="spacingAndGlyphs">150 ±20</text>
<text class="t" x="342.8" y="306.2" font-size="18.5" text-anchor="middle" transform="rotate(-90 342.8 306.2)">1/2" G</text>
<text class="t" x="346.3" y="443.9" font-size="18.5" text-anchor="middle" transform="rotate(-90 346.3 443.9)">Ø65</text>
<text class="t" x="415.7" y="492.1" font-size="18.5" text-anchor="middle">53</text>
<text class="t" x="474.0" y="492.1" font-size="18.5" text-anchor="middle">79</text>
<text class="tb" x="739.0" y="381.7" font-size="17.9" text-anchor="end" textLength="104.8" lengthAdjust="spacingAndGlyphs">LORD-VD-01</text>
<text class="tr" x="739.0" y="431.9" font-size="17.7" text-anchor="end" textLength="189.2" lengthAdjust="spacingAndGlyphs">Смеситель для ванны</text>
<text class="tr" x="739.4" y="455.7" font-size="17.7" text-anchor="end" textLength="146.4" lengthAdjust="spacingAndGlyphs">с ручным душем</text>
</g>
</svg>
</body></html>
